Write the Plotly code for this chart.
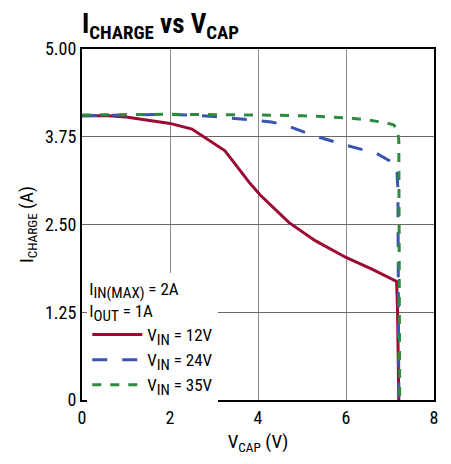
import plotly.graph_objects as go

vcap_12 = [0, 0.6, 1.0, 1.4, 2.0, 2.5, 3.25, 3.8, 4.05, 4.7, 5.3, 6.0, 6.6, 7.15, 7.17, 7.2]
i_12 = [4.05, 4.05, 4.03, 3.99, 3.94, 3.86, 3.55, 3.1, 2.92, 2.53, 2.27, 2.03, 1.86, 1.69, 1.33, 0]

vcap_24 = [0, 1.0, 2.0, 3.0, 3.8, 4.3, 4.6, 5.3, 6.0, 6.7, 7.15, 7.18, 7.2]
i_24 = [4.05, 4.06, 4.07, 4.04, 3.99, 3.96, 3.92, 3.76, 3.63, 3.51, 3.35, 3.0, 0]

vcap_35 = [0, 2, 4, 5, 6, 6.5, 6.9, 7.08, 7.17, 7.2, 7.22]
i_35 = [4.06, 4.07, 4.06, 4.05, 4.02, 3.99, 3.95, 3.92, 3.86, 3.7, 0]

SUB = "<sub><span style='font-size:15px'>{}</span></sub>"
names = ["V" + SUB.format("IN") + " = 12V",
         "V" + SUB.format("IN") + " = 24V",
         "V" + SUB.format("IN") + " = 35V"]
legend_note = "I" + SUB.format("IN(MAX)") + " = 2A<br>I" + SUB.format("OUT") + " = 1A"
x_ticks = [0, 2, 4, 6, 8]
y_ticks = [0, 1.25, 2.5, 3.75, 5.0]
y_ticklabels = ["0", "1.25", "2.50", "3.75", "5.00"]

FONT = "Liberation Sans Narrow, Roboto Condensed, Arial Narrow, Liberation Sans, sans-serif"

fig = go.Figure()
fig.add_trace(go.Scatter(x=vcap_12, y=i_12, mode="lines", name=names[0],
                         line=dict(color="#9b0a33", width=3)))
fig.add_trace(go.Scatter(x=vcap_24, y=i_24, mode="lines", name=names[1],
                         line=dict(color="#3a55b0", width=3, dash="longdash")))
fig.add_trace(go.Scatter(x=vcap_35, y=i_35, mode="lines", name=names[2],
                         line=dict(color="#2e8b3e", width=3, dash="dash")))

fig.update_layout(
    width=443, height=456,
    margin=dict(l=74, r=17, t=41, b=64),
    paper_bgcolor="white", plot_bgcolor="white",
    font=dict(family=FONT, size=16, color="black"),
    title=dict(text="<b>I<sub>CHARGE</sub> vs V<sub>CAP</sub></b>",
               x=0, xref="paper", xanchor="left", y=0.966, yanchor="middle",
               font=dict(size=27, family=FONT, color="black")),
    showlegend=True,
    legend=dict(x=0.015, y=-0.008, xanchor="left", yanchor="bottom",
                bgcolor="white", borderwidth=0,
                font=dict(size=17, family=FONT),
                itemwidth=50, tracegroupgap=0,
                title=dict(text=legend_note, font=dict(size=17, family=FONT))),
    xaxis=dict(range=[0, 8], tickvals=x_ticks, ticks="", showgrid=True,
               gridcolor="#8a8a8a", gridwidth=1, zeroline=False, automargin=False,
               showline=True, linecolor="black", linewidth=2, mirror=True,
               title=dict(text="V<sub>CAP</sub> (V)", standoff=8),
               tickfont=dict(size=18)),
    yaxis=dict(range=[0, 5], tickvals=y_ticks, ticktext=y_ticklabels, ticks="",
               showgrid=True, gridcolor="#6a6a6a", gridwidth=1, zeroline=False, automargin=False,
               showline=True, linecolor="black", linewidth=2, mirror=True,
               title=dict(text="I<sub>CHARGE</sub> (A)", standoff=6),
               tickfont=dict(size=18)),
)

fig.write_html("out.html")
